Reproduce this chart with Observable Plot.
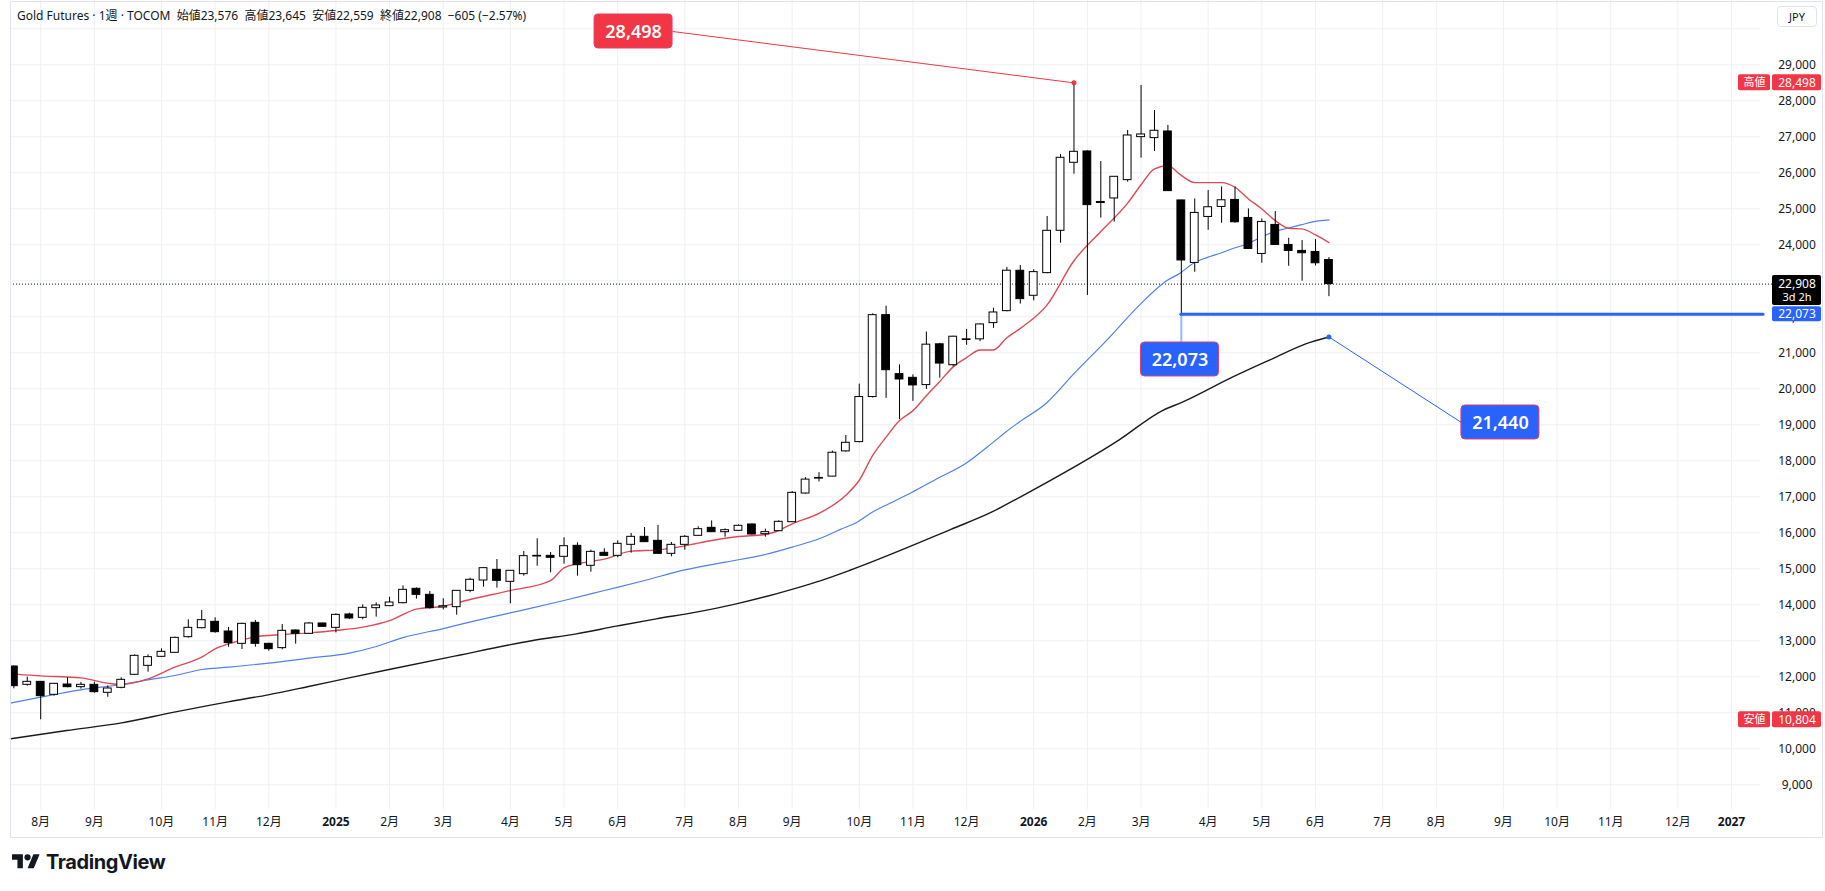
<!DOCTYPE html>
<html>
<head>
<meta charset="utf-8">
<script src="https://cdn.jsdelivr.net/npm/d3@7"></script>
<script src="https://cdn.jsdelivr.net/npm/@observablehq/plot@0.6"></script>
<style>
  body { margin: 0; background: #fff; }
  #wrap { position: relative; width: 1825px; height: 891px; overflow: hidden;
          font-family: "Noto Sans", "Noto Sans CJK JP", sans-serif; color: #131722; }
  #chart { position: absolute; left: 0; top: 0; }
  #legend { position: absolute; left: 17px; top: 6px; font-size: 12px; white-space: pre; }
  #ccy { position: absolute; left: 1777px; top: 6px; width: 40px; height: 21px; box-sizing: border-box;
         border: 1px solid #e0e3eb; border-radius: 4px; font-size: 11px; line-height: 19px; text-align: center; }
  #border { position: absolute; left: 10px; top: 1px; width: 1811px; height: 835px;
            border: 1px solid #e0e3eb; pointer-events: none; }
  #brand { position: absolute; left: 12px; top: 850px; display: flex; align-items: center; gap: 6px;
           font-family: Inter, "Noto Sans", sans-serif; font-size: 20px; font-weight: 700; letter-spacing: -0.4px; }
</style>
</head>
<body>
<div id="wrap">
  <div id="chart"></div>
  <div id="border"></div>
  <div id="legend">Gold Futures · 1週 · TOCOM  始値23,576  高値23,645  安値22,559  終値22,908  −605 (−2.57%)</div>
  <div id="ccy">JPY</div>
  <div id="brand">
    <svg width="28" height="22" viewBox="0 0 36 28"><path fill="#131722" d="M14 22H7V11H0V4h14v18zM28 22h-8l7.5-18h8L28 22z"/><circle fill="#131722" cx="20" cy="8" r="4"/></svg>
    <span>TradingView</span>
  </div>
</div>
<script>
// Weekly bars, Monday of each week, starting 2024-07-22
const firstWeek = Date.UTC(2024, 6, 22);
const weekDate = w => new Date(firstWeek + w * 7 * 864e5);

const open = [12286, 11777, 11860, 11499, 11786, 11712, 11777, 11555, 11694, 12055,
  12305, 12555, 12666, 13101, 13351, 13527, 13258, 12916, 13499, 12916,
  12796, 13286, 13194, 13481, 13360, 13731, 13638, 13907, 13962, 14045,
  14444, 14277, 13925, 13934, 14388, 14675, 14971, 14638, 14851, 15360,
  15360, 15333, 15638, 15083, 15444, 15360, 15666, 15888, 15777, 15416,
  15666, 15916, 16138, 16018, 16055, 16231, 15962, 16045, 16295, 17091,
  17505, 17561, 18261, 18519, 19771, 22046, 20407, 20305, 20103, 21236,
  20655, 21355, 21374, 21825, 22157, 23278, 22584, 23213, 24389, 26278,
  26593, 25190, 25287, 25796, 26991, 26963, 27148, 25232, 23496, 24774,
  25052, 25246, 24746, 23746, 24552, 23996, 23830, 23802, 23576];
const high = [12305, 11990, 11870, 11820, 11972, 11842, 11851, 11749, 11972, 12610,
  12610, 12777, 13101, 13582, 13842, 13638, 13370, 13490, 13564, 12934,
  13453, 13305, 13508, 13490, 13749, 13768, 13999, 14055, 14212, 14527,
  14471, 14370, 14166, 14395, 14740, 15025, 15258, 14950, 15481, 15833,
  15453, 15860, 15721, 15518, 15555, 15777, 15981, 16147, 16203, 15731,
  15925, 16166, 16332, 16110, 16221, 16249, 16101, 16332, 17147, 17533,
  17671, 18270, 18703, 20130, 22083, 22295, 20665, 20388, 21576, 21263,
  21460, 21650, 21800, 22239, 23372, 23426, 23306, 24787, 26509, 28498,
  26611, 26315, 25895, 27176, 28426, 27731, 27315, 25240, 25274, 25506,
  25607, 25607, 24996, 24719, 24922, 24182, 24117, 24145, 23645];
const low = [11666, 11740, 10804, 11462, 11694, 11657, 11546, 11434, 11666, 12040,
  12129, 12546, 12660, 13073, 13333, 13212, 12823, 12758, 12823, 12712,
  12749, 12907, 13190, 13380, 13221, 13592, 13582, 13657, 13955, 14027,
  14157, 13879, 13860, 13712, 14333, 14490, 14462, 14027, 14796, 15073,
  14888, 15129, 14796, 14907, 15351, 15305, 15434, 15735, 15410, 15333,
  15518, 15906, 16010, 15879, 16045, 15934, 15879, 16040, 16290, 17073,
  17413, 17555, 18242, 18500, 19744, 19734, 19145, 19651, 19983, 20296,
  20609, 21208, 21309, 21678, 22138, 22352, 22444, 23195, 24046, 25963,
  22593, 24741, 24630, 25741, 26407, 26593, 25480, 22073, 23237, 24404,
  24598, 24598, 23880, 23487, 23990, 23404, 22987, 23413, 22559];
const close = [11740, 11860, 11462, 11805, 11712, 11777, 11573, 11675, 11916, 12583,
  12546, 12694, 13082, 13360, 13573, 13240, 12935, 13471, 12916, 12768,
  13277, 13194, 13481, 13388, 13721, 13620, 13916, 13981, 14064, 14416,
  14277, 13907, 13960, 14388, 14694, 15018, 14666, 14944, 15351, 15342,
  15305, 15629, 15101, 15471, 15360, 15694, 15888, 15740, 15416, 15666,
  15888, 16101, 16018, 16073, 16194, 15953, 16018, 16305, 17110, 17478,
  17524, 18224, 18500, 19771, 22046, 20517, 20259, 20094, 21226, 20701,
  21447, 21374, 21788, 22120, 23280, 22491, 23241, 24389, 26417, 26583,
  25102, 25160, 25889, 27037, 27065, 27167, 25491, 23565, 24885, 25043,
  25237, 24626, 23885, 24635, 23996, 23830, 23765, 23487, 22908];

// Moving averages: [week, price]
const ma9Points = [[-0.25, 12080], [0, 12073], [2, 12027], [5, 11971], [7, 11823], [8, 11786], [10, 11944],
  [12, 12268], [14, 12545], [15, 12777], [16, 12916], [18, 13110], [20, 13175], [22, 13221],
  [24, 13286], [26, 13379], [28, 13560], [30, 13880], [32, 13960], [34, 14147], [37, 14397],
  [40, 14675], [41, 15027], [42, 15138], [44, 15268], [46, 15490], [48, 15527], [50, 15638],
  [52, 15786], [54, 15897], [56, 15953], [57, 16064], [58, 16249], [60, 16538], [62, 17045],
  [63, 17460], [64, 18150], [65, 18657], [66, 19117], [67, 19394], [68, 19808], [69, 20204],
  [70, 20609], [71, 20867], [72, 21079], [73, 21079], [74, 21420], [75, 21678], [77, 22333],
  [79, 23556], [81, 24370], [83, 25157], [84, 25667], [85, 26111], [86, 26194], [87, 25926],
  [88, 25728], [90, 25728], [91, 25598], [92, 25274], [93, 24996], [94, 24672], [95, 24459],
  [96, 24441], [97, 24274], [98, 24061]];
const ma26Points = [[-0.25, 11268], [2, 11435], [5, 11638], [8, 11786], [10, 11916], [12, 12036],
  [14, 12203], [16, 12268], [19, 12379], [22, 12518], [25, 12657], [27, 12842], [29, 13090],
  [32, 13340], [35, 13610], [38, 13860], [41, 14120], [44, 14397], [47, 14675], [50, 14971],
  [53, 15184], [56, 15397], [58, 15601], [60, 15833], [61.6, 16096], [62.9, 16308], [63.9, 16557],
  [64.9, 16750], [66.9, 17119], [68.9, 17524], [70.9, 17920], [72.9, 18491], [73.9, 18795],
  [74.9, 19071], [77, 19620], [79, 20420], [81.4, 21333], [83.9, 22333], [85.9, 23000],
  [86.9, 23209], [87.9, 23487], [88.9, 23644], [89.9, 23765], [90.9, 23904], [91.9, 24024],
  [92.9, 24200], [93.9, 24367], [94.9, 24459], [95.9, 24552], [96.9, 24645], [98, 24691]];
const ma52Points = [[-0.25, 10277], [3.94, 10508], [7.93, 10712], [11.95, 11018], [15.97, 11305],
  [18.95, 11499], [21.96, 11731], [24.98, 11971], [27.96, 12203], [32.48, 12546], [38.68, 13008],
  [41.91, 13194], [44.89, 13406], [47.87, 13610], [50.85, 13795], [53.83, 14027], [56.8, 14305],
  [59.78, 14629], [62.26, 14953], [69.84, 16096], [72.93, 16585], [74.92, 16980], [82.37, 18583],
  [85.59, 19397], [87.08, 19628], [90.8, 20322], [93.78, 20833], [96.27, 21250], [98, 21440]];

const monthTickWeeks = [2, 6, 11, 15, 19, 24, 28, 32, 37, 41, 45, 50, 54, 58, 63, 67, 71, 76,
  80, 84, 89, 93, 97, 102, 106, 111, 115, 119, 124, 128];
const monthTickLabels = ["8月", "9月", "10月", "11月", "12月", "2025", "2月", "3月", "4月", "5月",
  "6月", "7月", "8月", "9月", "10月", "11月", "12月", "2026", "2月", "3月", "4月", "5月", "6月",
  "7月", "8月", "9月", "10月", "11月", "12月", "2027"];
const priceTicks = d3.range(9000, 29001, 1000);
const gridPrices = d3.range(9000, 30001, 1000);

const lastClose = close[close.length - 1];
const periodHigh = d3.max(high), periodLow = d3.min(low);
const supportLow = low[87];          // 22,073 swing low
const ma52Last = ma52Points[ma52Points.length - 1][1];

// ---- layout ----
const W = 1825, H = 840, ML = 10, MR = 65, MT = 0, MB = 31;
const weekDomain = [-0.25, 130.16];
const priceDomain = [8314, 30786];
const pxPerWeek = (W - MR - ML) / (weekDomain[1] - weekDomain[0]);
const pxPerPrice = (H - MB - MT) / (priceDomain[1] - priceDomain[0]);
const wk = px => px / pxPerWeek;                 // pixel width -> weeks
const pr = px => px / pxPerPrice;                // pixel height -> price
const colWeek = px => weekDomain[0] + (px - ML) / pxPerWeek;  // page x -> week

const candles = close.map((c, i) => ({i, date: weekDate(i), open: open[i], high: high[i], low: low[i], close: c}));
const line = pts => pts.map(([w, v]) => ({date: weekDate(w), v}));

const gridColor = "#eef0f3";
const ink = "#131722";
const red = "#F23645", blue = "#2962FF";
const halfBody = wk(3.9);

// callout boxes anchored in chart coordinates
const boxW = 78, boxH = 34;
const callouts = [
  {label: d3.format(",")(periodHigh), fill: red, week: 46.18, price: 29925},
  {label: d3.format(",")(supportLow), fill: blue, week: 86.9, price: 20814},
  {label: d3.format(",")(ma52Last), fill: blue, week: 110.78, price: 19064}
];

// price-axis tags
const tagX1 = colWeek(1772), tagX2 = colWeek(1821), tagMid = colWeek(1796.5);
const sideX1 = colWeek(1738), sideX2 = colWeek(1770), sideMid = colWeek(1754);
const tags = [
  {v: periodHigh, fill: red, top: 8, bottom: 8},
  {v: periodLow, fill: red, top: 8, bottom: 8},
  {v: lastClose, fill: "#000", top: 8.5, bottom: 21.5},
  {v: supportLow, fill: blue, top: 7.5, bottom: 7.5}
];

const chart = Plot.plot({
  width: W, height: H,
  marginLeft: ML, marginRight: MR, marginTop: MT, marginBottom: MB,
  x: {type: "utc", domain: weekDomain.map(weekDate), axis: null},
  y: {domain: priceDomain, axis: null},
  style: {fontFamily: '"Noto Sans", "Noto Sans CJK JP", sans-serif', fontSize: "12px", background: "transparent", overflow: "visible"},
  marks: [
    // grid
    Plot.ruleX(monthTickWeeks, {x: w => weekDate(w), stroke: gridColor}),
    Plot.ruleY(gridPrices, {stroke: gridColor}),

    // last price dotted line
    Plot.ruleY([lastClose], {x1: () => weekDate(weekDomain[0]), x2: () => weekDate(tagX1), stroke: ink, strokeDasharray: "1 2"}),

    // moving averages
    Plot.line(line(ma52Points), {x: "date", y: "v", stroke: "#1b1b1b", strokeWidth: 1.4, curve: "monotone-x"}),
    Plot.line(line(ma26Points), {x: "date", y: "v", stroke: "#4f80e8", strokeWidth: 1.2, curve: "monotone-x"}),
    Plot.line(line(ma9Points), {x: "date", y: "v", stroke: "#dc4a58", strokeWidth: 1.4, curve: "monotone-x"}),

    // candles
    Plot.ruleX(candles, {x: "date", y1: "low", y2: "high", stroke: "#000", strokeWidth: 1, clip: true}),
    Plot.rect(candles, {
      x1: d => weekDate(d.i - halfBody), x2: d => weekDate(d.i + halfBody),
      y1: "open", y2: "close",
      fill: d => d.close >= d.open ? "#fff" : "#000", stroke: "#000", strokeWidth: 1, clip: true
    }),

    // 22,073 support line
    Plot.ruleX([supportLow], {x: () => weekDate(87), y1: d => d, y2: () => callouts[1].price + pr(boxH / 2), stroke: blue, strokeOpacity: 0.45, strokeWidth: 2}),
    Plot.ruleY([supportLow], {x1: () => weekDate(87), x2: () => weekDate(colWeek(1763)), stroke: blue, strokeWidth: 3, strokeLinecap: "round"}),

    // callout connectors
    Plot.link([0], {x1: () => weekDate(callouts[0].week + wk(boxW / 2)), y1: () => callouts[0].price,
      x2: () => weekDate(79), y2: () => periodHigh, stroke: red, strokeWidth: 1}),
    Plot.dot([0], {x: () => weekDate(79), y: () => periodHigh, r: 2.5, fill: red}),
    Plot.link([0], {x1: () => weekDate(98), y1: () => ma52Last,
      x2: () => weekDate(callouts[2].week - wk(boxW / 2)), y2: () => callouts[2].price, stroke: blue, strokeWidth: 1}),
    Plot.dot([0], {x: () => weekDate(98), y: () => ma52Last, r: 2.5, fill: blue}),

    // callout boxes
    Plot.rect(callouts, {
      x1: d => weekDate(d.week - wk(boxW / 2)), x2: d => weekDate(d.week + wk(boxW / 2)),
      y1: d => d.price - pr(boxH / 2), y2: d => d.price + pr(boxH / 2),
      fill: "fill", stroke: "#e0426a", strokeWidth: 1, rx: 4
    }),
    Plot.text(callouts, {x: d => weekDate(d.week), y: "price", text: "label", fill: "#fff",
      fontSize: 18, fontWeight: 600, dy: 0.5}),

    // price axis labels
    Plot.text(priceTicks, {x: () => weekDate(tagMid), y: d => d, text: d3.format(","), fill: ink}),

    // price axis tags
    Plot.rect(tags, {x1: () => weekDate(tagX1), x2: () => weekDate(tagX2),
      y1: d => d.v + pr(d.top), y2: d => d.v - pr(d.bottom), fill: "fill", rx: 2}),
    Plot.text(tags, {x: () => weekDate(tagMid), y: "v", text: d => d3.format(",")(d.v), fill: "#fff"}),
    Plot.text([lastClose], {x: () => weekDate(tagMid), y: d => d, dy: 13, text: () => "3d 2h", fill: "#fff", fontSize: 11}),
    Plot.rect([periodHigh, periodLow], {x1: () => weekDate(sideX1), x2: () => weekDate(sideX2),
      y1: d => d + pr(8), y2: d => d - pr(8), fill: red, rx: 2}),
    Plot.text([periodHigh, periodLow], {x: () => weekDate(sideMid), y: d => d, text: (d, i) => i === 0 ? "高値" : "安値", fill: "#fff", fontSize: 11}),

    // time axis labels
    Plot.text(monthTickWeeks.filter((w, i) => !/^\d{4}$/.test(monthTickLabels[i])),
      {x: w => weekDate(w), frameAnchor: "bottom", dy: 16, text: w => monthTickLabels[monthTickWeeks.indexOf(w, 0)], fill: ink}),
    Plot.text(monthTickWeeks.filter((w, i) => /^\d{4}$/.test(monthTickLabels[i])),
      {x: w => weekDate(w), frameAnchor: "bottom", dy: 16, text: w => monthTickLabels[monthTickWeeks.indexOf(w)], fill: ink, fontWeight: 700})
  ]
});
document.getElementById("chart").appendChild(chart);
</script>
</body>
</html>
